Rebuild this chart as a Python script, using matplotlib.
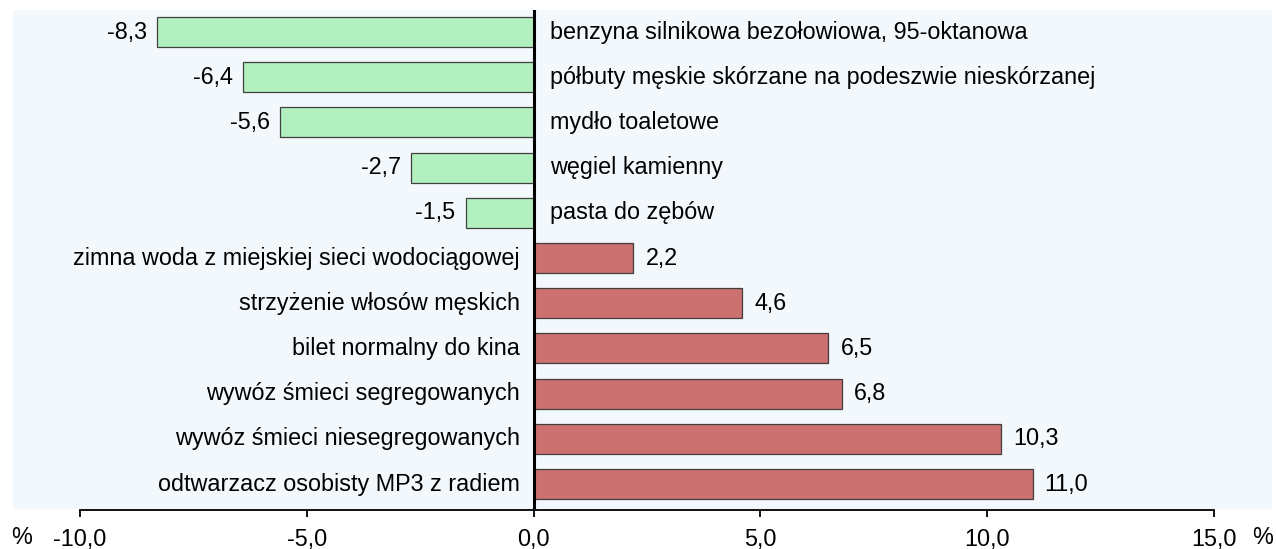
import matplotlib
matplotlib.use("Agg")
import matplotlib.pyplot as plt
from matplotlib.patches import Rectangle
from matplotlib.transforms import offset_copy

plt.rcParams['font.family'] = ['Liberation Sans', 'DejaVu Sans']

categories = [
    "benzyna silnikowa bezołowiowa, 95-oktanowa",
    "półbuty męskie skórzane na podeszwie nieskórzanej",
    "mydło toaletowe",
    "węgiel kamienny",
    "pasta do zębów",
    "zimna woda z miejskiej sieci wodociągowej",
    "strzyżenie włosów męskich",
    "bilet normalny do kina",
    "wywóz śmieci segregowanych",
    "wywóz śmieci niesegregowanych",
    "odtwarzacz osobisty MP3 z radiem",
]
values = [-8.3, -6.4, -5.6, -2.7, -1.5, 2.2, 4.6, 6.5, 6.8, 10.3, 11.0]
xticks = [-10, -5, 0, 5, 10, 15]
xtick_labels = ["-10,0", "-5,0", "0,0", "5,0", "10,0", "15,0"]

W, H = 1276, 549
fig = plt.figure(figsize=(W / 100, H / 100), dpi=100)
fig.patch.set_facecolor('white')

# background panel (drawn below the axes)
bg = Rectangle((13 / W, 1 - 509 / H), (1272 - 13) / W, (509 - 10) / H,
               transform=fig.transFigure, facecolor='#f3f8fc',
               edgecolor='none', zorder=-10)
fig.add_artist(bg)

ax = fig.add_axes([80 / W, 1 - 509 / H, (1214 - 80) / W, (509 - 10) / H])
ax.set_zorder(1)
ax.patch.set_alpha(0)

green = '#b3f0c0'
red = '#cc7070'
fs = 16.8
ypos = list(range(len(categories)))
colors = [green if v < 0 else red for v in values]
ax.barh(ypos, values, height=0.66, color=colors, edgecolor='#404040', linewidth=0.9, zorder=2)

ax.set_xlim(-10, 15)
ax.set_ylim(10.553, -0.487)
ax.axvline(0, color='black', linewidth=2.2, zorder=3)

for y, v, c in zip(ypos, values, categories):
    lab = f"{v:.1f}".replace('.', ',')
    if v < 0:
        t = offset_copy(ax.transData, fig=fig, x=-10, y=0, units='dots')
        ax.text(v, y, lab, transform=t, ha='right', va='center', fontsize=fs)
        t2 = offset_copy(ax.transData, fig=fig, x=16, y=0, units='dots')
        ax.text(0, y, c, transform=t2, ha='left', va='center', fontsize=fs)
    else:
        t = offset_copy(ax.transData, fig=fig, x=12, y=0, units='dots')
        ax.text(v, y, lab, transform=t, ha='left', va='center', fontsize=fs)
        t2 = offset_copy(ax.transData, fig=fig, x=-14, y=0, units='dots')
        ax.text(0, y, c, transform=t2, ha='right', va='center', fontsize=fs)

for s in ['left', 'right', 'top']:
    ax.spines[s].set_visible(False)
ax.spines['bottom'].set_linewidth(1.3)
ax.spines['bottom'].set_position(('outward', 1))
ax.set_yticks([])
ax.set_xticks(xticks)
ax.set_xticklabels(xtick_labels, fontsize=fs)
ax.tick_params(axis='x', direction='out', length=5, width=1.3, pad=7.5)

fig.text(22 / W, 1 - 537 / H, "%", ha='center', va='center', fontsize=fs)
fig.text(1263 / W, 1 - 537 / H, "%", ha='center', va='center', fontsize=fs)

fig.savefig("out.png", dpi=100)
